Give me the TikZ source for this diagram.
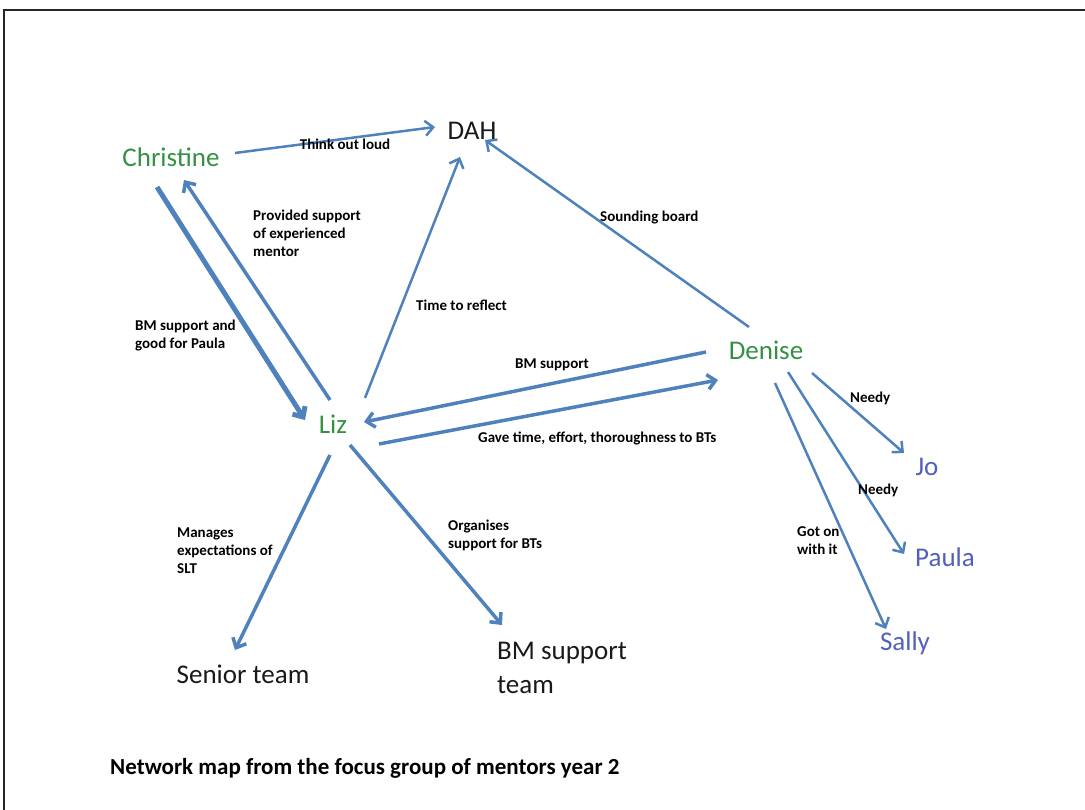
\documentclass[tikz,border=0pt]{standalone}
\usepackage{fontspec}
\setmainfont{Carlito}
\usetikzlibrary{arrows.meta,calc}
\definecolor{linkblue}{RGB}{79,129,189}
\definecolor{mentorgreen}{RGB}{52,145,68}
\definecolor{menteeblue}{RGB}{82,96,186}
\tikzset{
  personlabel/.style={inner sep=0pt, font=\fontsize{27}{32}\selectfont},
  mentor/.style={personlabel, text=mentorgreen},
  mentee/.style={personlabel, text=menteeblue},
  group/.style={personlabel, text=black!90},
  link/.style={draw=linkblue, line width=2.5pt, -{Straight Barb[length=8pt,width=15pt]}},
  midlink/.style={link, line width=3.5pt},
  thicklink/.style={link, line width=5pt},
  lbl/.style={inner sep=0pt, font=\bfseries\fontsize{15}{18}\selectfont, align=left, text=black}
}
\begin{document}
\begin{tikzpicture}[x=1pt,y=-1pt]
\useasboundingbox (0,0) rectangle (1085,810);
% frame
\draw[line width=2.5pt, black!85] (4,810) -- (4,10) -- (1085,10);

% people and groups
\node[mentor] (christine) at (171,157) {Christine};
\node[group]  (dah)       at (472,131) {DAH};
\node[mentor] (liz)       at (333,424) {Liz};
\node[mentor] (denise)    at (766,350) {Denise};
\node[mentee] (jo)        at (927,467) {Jo};
\node[mentee] (paula)     at (945,557) {Paula};
\node[mentee] (sally)     at (905,643) {Sally};
\node[group]  (senior)    at (243,674) {Senior team};
\node[group, anchor=west, align=left, font=\fontsize{27}{34}\selectfont] (bmteam) at (497,668) {BM support\\team};
\node[anchor=west, inner sep=0pt, font=\bfseries\fontsize{23}{27}\selectfont] (caption) at (110,768) {Network map from the focus group of mentors year 2};

% connections
\draw[link]      ($(christine)+(64,-4)$) -- ($(dah)+(-37,-4)$);
\draw[thicklink] ($(christine)+(-14,30)$) -- ($(liz)+(-28,-4)$);
\draw[midlink]   ($(liz)+(-3,-24)$) -- ($(christine)+(13,23)$);
\draw[link]      ($(liz)+(32,-26)$) -- ($(dah)+(-12,26)$);
\draw[link]      ($(denise)+(-17,-23)$) -- ($(dah)+(13,9)$);
\draw[midlink]   ($(denise)+(-60,2)$) -- ($(liz)+(31,-2)$);
\draw[midlink]   ($(liz)+(46,20)$) -- ($(denise)+(-48,30)$);
\draw[link]      ($(denise)+(46,23)$) -- ($(jo)+(-23,-14)$);
\draw[link]      ($(denise)+(22,22)$) -- ($(paula)+(-41,-3)$);
\draw[link]      ($(denise)+(9,33)$) -- ($(sally)+(-19,-14)$);
\draw[midlink]   ($(liz)+(-3,31)$) -- ($(senior)+(-8,-24)$);
\draw[midlink]   ($(liz)+(17,21)$) -- ($(bmteam.west)+(5,-43)$);

% connection labels
\node[lbl] (l1)  at (345,144) {Think out loud};
\node[lbl, anchor=north west] (l2) at (253,210) {Provided support\\of experienced\\mentor};
\node[lbl, anchor=north west] (l3) at (135,320) {BM support and\\good for Paula};
\node[lbl, anchor=west] (l4)  at (416,305) {Time to reflect};
\node[lbl, anchor=west] (l5)  at (600,218) {Sounding board};
\node[lbl, anchor=west] (l6)  at (515,365) {BM support};
\node[lbl, anchor=west] (l7)  at (478,438) {Gave time, effort, thoroughness to BTs};
\node[lbl, anchor=west] (l8)  at (850,398) {Needy};
\node[lbl, anchor=west] (l9)  at (858,490) {Needy};
\node[lbl, anchor=north west] (l10) at (797,526) {Got on\\with it};
\node[lbl, anchor=north west] (l11) at (177,528) {Manages\\expectations of\\SLT};
\node[lbl, anchor=north west] (l12) at (448,520) {Organises\\support for BTs};
\end{tikzpicture}
\end{document}
